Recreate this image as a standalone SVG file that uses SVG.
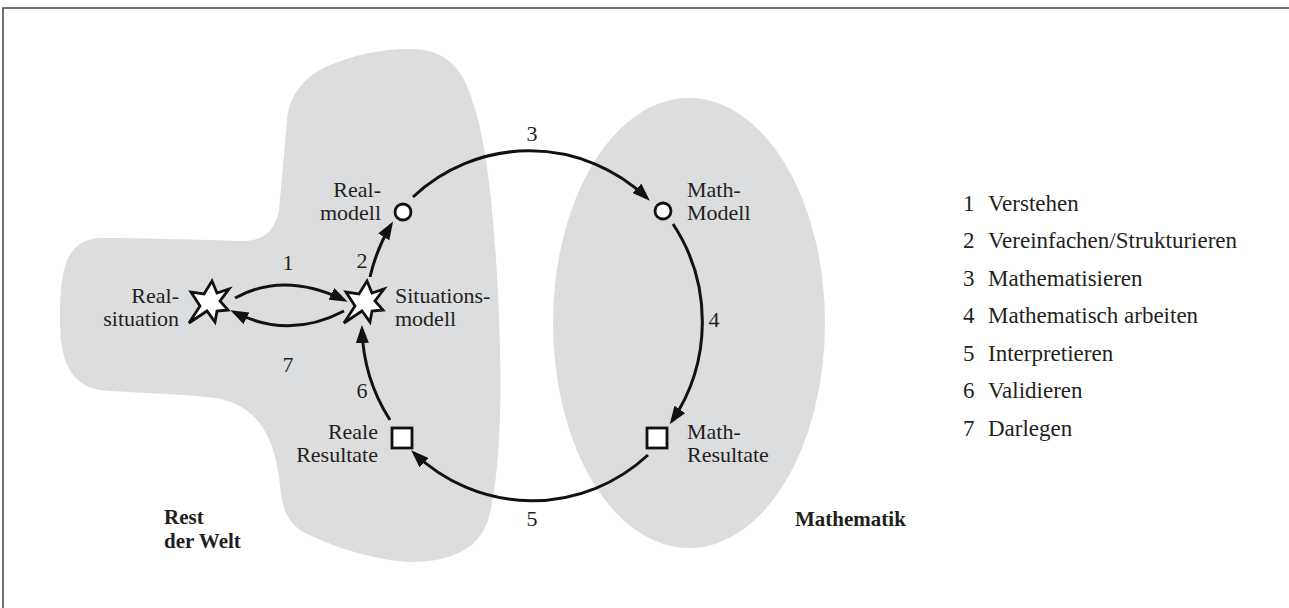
<svg xmlns="http://www.w3.org/2000/svg" xmlns:xlink="http://www.w3.org/1999/xlink" width="1289" height="608" viewBox="0 0 1289 608">
<style>
.region{fill:#dcdddf;stroke:none}
text{font-family:'Liberation Serif','DejaVu Serif',serif;fill:#231f20}
.lbl{font-size:22px}
.leg{font-size:23px}
.bold{font-size:21px;font-weight:bold}
.end{text-anchor:end}
.mid{text-anchor:middle}
.arc{fill:none;stroke:#111;stroke-width:3;marker-end:url(#ah)}
.shape{fill:#fff;stroke:#111;stroke-width:2.8;stroke-linejoin:miter}
</style>
<defs>
<marker id="ah" markerUnits="userSpaceOnUse" markerWidth="18" markerHeight="13" refX="14" refY="6.5" orient="auto" viewBox="0 0 18 13">
<path d="M0,0 L18,6.5 L0,13 z" fill="#111"/>
</marker>
<polygon id="star" points="2,-21 7,-9 19,-13 10,-1 18,8 7,9 5,20 -3,9 -21,21 -10,4 -19,-10 -6,-8"/>
</defs>
<rect width="1289" height="608" fill="#fff"/>
<path d="M3,608 L3,8 L1289,8" fill="none" stroke="#444" stroke-width="1.5"/>

<g id="region-rest">
<path class="region" d="M240,241 C262,242 275,232 279,210 L287,120 C289,95 305,75 330,65 C355,55 380,49 410,49 C440,49 462,62 473,103 C490,150 498,260 500,350 C502,430 497,490 488,520 C478,550 450,562 410,562 C370,560 330,545 305,533 C285,522 282,505 280,485 C276,445 262,405 215,398 C170,393 130,393 100,390 C70,385 60,360 60,320 C60,270 65,240 100,238 C150,238 200,240 240,241 Z"/>
<text class="bold" x="164" y="524">Rest</text>
<text class="bold" x="164" y="548">der Welt</text>
</g>
<g id="region-math">
<ellipse class="region" cx="689" cy="323" rx="136" ry="225"/>
<text class="bold" x="795" y="526">Mathematik</text>
</g>

<g id="connectors">
<path class="arc" d="M235,298 Q284,271 344,300"/>
<path class="arc" d="M370,277 A172,175 0 0 1 391,225"/>
<path class="arc" d="M413,197 A172,175 0 0 1 647,198"/>
<path class="arc" d="M673,224 A172,175 0 0 1 672,421"/>
<path class="arc" d="M648,455 A172,175 0 0 1 414,453"/>
<path class="arc" d="M390,420 A172,175 0 0 1 362,329"/>
<path class="arc" d="M344,311 Q289,340 234,312"/>
<text class="lbl mid" x="288" y="270">1</text>
<text class="lbl mid" x="362" y="268">2</text>
<text class="lbl mid" x="532" y="141">3</text>
<text class="lbl mid" x="714" y="327">4</text>
<text class="lbl mid" x="532" y="526">5</text>
<text class="lbl mid" x="362" y="398">6</text>
<text class="lbl mid" x="288" y="372">7</text>
</g>

<g id="node-realsituation">
<use xlink:href="#star" href="#star" class="shape" transform="translate(210,302)"/>
<text class="lbl end" x="179" y="303">Real-</text>
<text class="lbl end" x="179" y="326">situation</text>
</g>
<g id="node-situationsmodell">
<use xlink:href="#star" href="#star" class="shape" transform="translate(365,302)"/>
<text class="lbl" x="395" y="303">Situations-</text>
<text class="lbl" x="395" y="326">modell</text>
</g>
<g id="node-realmodell">
<circle class="shape" cx="403" cy="212" r="8"/>
<text class="lbl end" x="381" y="197">Real-</text>
<text class="lbl end" x="381" y="220">modell</text>
</g>
<g id="node-mathmodell">
<circle class="shape" cx="663" cy="211" r="8"/>
<text class="lbl" x="687" y="197">Math-</text>
<text class="lbl" x="687" y="220">Modell</text>
</g>
<g id="node-mathresultate">
<rect class="shape" x="647" y="428" width="20" height="20"/>
<text class="lbl" x="687" y="439">Math-</text>
<text class="lbl" x="687" y="462">Resultate</text>
</g>
<g id="node-realeresultate">
<rect class="shape" x="392" y="428" width="20" height="20"/>
<text class="lbl end" x="378" y="439">Reale</text>
<text class="lbl end" x="378" y="462">Resultate</text>
</g>

<g id="legend">
<text class="leg" x="963" y="210.5">1</text><text class="leg" x="988" y="210.5">Verstehen</text>
<text class="leg" x="963" y="248">2</text><text class="leg" x="988" y="248">Vereinfachen/Strukturieren</text>
<text class="leg" x="963" y="285.5">3</text><text class="leg" x="988" y="285.5">Mathematisieren</text>
<text class="leg" x="963" y="323">4</text><text class="leg" x="988" y="323">Mathematisch arbeiten</text>
<text class="leg" x="963" y="360.5">5</text><text class="leg" x="988" y="360.5">Interpretieren</text>
<text class="leg" x="963" y="398">6</text><text class="leg" x="988" y="398">Validieren</text>
<text class="leg" x="963" y="435.5">7</text><text class="leg" x="988" y="435.5">Darlegen</text>
</g>
</svg>
